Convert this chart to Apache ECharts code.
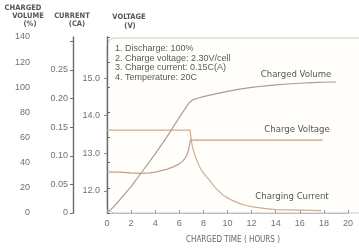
<!DOCTYPE html>
<html><head><meta charset="utf-8">
<script src="https://cdn.jsdelivr.net/npm/echarts@6/dist/echarts.min.js"></script>
<style>html,body{margin:0;padding:0;background:#fff}#c{width:359px;height:251px}</style>
</head><body><div id="c"></div>
<script>
// ---- data ----
const xTickValues = [0, 2, 4, 6, 8, 10, 12, 14, 16, 18, 20];
const volumeTicks = [0, 20, 40, 60, 80, 100, 120, 140];
const currentTicks = [0, 0.05, 0.10, 0.15, 0.20, 0.25];
const voltageTicks = [12.0, 13.0, 14.0, 15.0];

const volumeHours  = [0, 0.3, 0.7, 1.2, 2, 3, 4, 5, 6, 6.8, 7.1, 7.5, 8, 9, 10, 11, 12, 13, 14, 15, 16, 17, 18, 19];
const volumeValues = [0, 2.5, 6.5, 12, 21, 34, 47, 61, 76, 87.5, 90, 91.3, 92.6, 94.8, 96.8, 98.5, 99.9, 101, 101.9, 102.6, 103.2, 103.7, 104, 104.2];

const voltageHours  = [0, 1, 2, 2.8, 3.5, 4, 4.5, 5, 5.5, 6, 6.3, 6.5, 6.65, 6.75, 6.85, 6.92, 8, 10, 12, 14, 16, 17.9];
const voltageValues = [12.51, 12.5, 12.48, 12.47, 12.48, 12.5, 12.54, 12.58, 12.64, 12.72, 12.8, 12.88, 12.97, 13.08, 13.22, 13.35, 13.35, 13.35, 13.35, 13.35, 13.35, 13.35];

const currentHours  = [0, 6.9, 6.95, 7.05, 7.2, 7.4, 7.6, 7.8, 8.1, 8.4, 8.7, 9, 9.35, 9.7, 10.05, 10.4, 10.75, 11.1, 11.5, 12, 13, 14, 16, 17.8];
const currentValues = [0.145, 0.145, 0.135, 0.12, 0.107, 0.095, 0.085, 0.076, 0.067, 0.060, 0.052, 0.044, 0.037, 0.030, 0.026, 0.022, 0.019, 0.016, 0.0135, 0.011, 0.008, 0.006, 0.005, 0.004];

const notes = ['1. Discharge: 100%', '2. Charge voltage: 2.30V/cell', '3. Charge current: 0.15C(A)', '4. Temperature: 20C'];
const seriesNames = ['Charged Volume', 'Charge Voltage', 'Charging Current'];

// ---- chart ----
const zip = (a, b) => a.map((v, i) => [v, b[i]]);
const FONT = "'Liberation Sans', Arial, sans-serif";
const NARROW = "'Liberation Sans Narrow', 'DejaVu Sans Condensed', 'Liberation Sans', sans-serif";
const labelCol = '#707070';

const chart = echarts.init(document.getElementById('c'), null, {renderer: 'canvas'});
const GL = 107, GT = 37, GB = 38, GR = 11;

chart.setOption({
  animation: false,
  backgroundColor: '#ffffff',
  grid: {left: GL, top: GT, right: GR, bottom: GB, containLabel: false},
  xAxis: {
    type: 'value', min: 0, max: 20, interval: 2,
    axisLine: {show: true, lineStyle: {color: '#bdbdbd', width: 1}},
    axisTick: {show: true, inside: true, length: 3, lineStyle: {color: '#999'}},
    axisLabel: {color: labelCol, fontSize: 9, fontFamily: FONT, margin: 6,
      formatter: v => xTickValues.includes(v) ? String(v) : ''},
    splitLine: {show: false}
  },
  yAxis: [
    { // charged volume
      type: 'value', position: 'left', offset: 67, min: 0, max: 140, interval: 20,
      axisLine: {show: true, lineStyle: {color: '#6a6a6a', width: 1.4}},
      axisTick: {show: true, inside: true, length: 3, lineStyle: {color: '#6a6a6a'}},
      axisLabel: {color: labelCol, fontSize: 9, fontFamily: FONT, margin: 10,
        formatter: v => volumeTicks.includes(v) ? String(v) : ''},
      splitLine: {show: false}
    },
    { // current
      type: 'value', position: 'left', offset: 34, min: 0, max: 0.3077, interval: 0.05,
      axisLine: {show: true, lineStyle: {color: '#6a6a6a', width: 1.4}},
      axisTick: {show: true, inside: false, length: 3, lineStyle: {color: '#6a6a6a'}},
      axisLabel: {color: labelCol, fontSize: 9, fontFamily: FONT, margin: 5, showMaxLabel: false,
        formatter: v => {
          const t = currentTicks.find(c => Math.abs(c - v) < 1e-6);
          if (t === undefined) return '';
          return t === 0 ? '0' : t.toFixed(2);
        }},
      splitLine: {show: false}
    },
    { // voltage
      type: 'value', position: 'left', offset: 0, min: 11.416, max: 16.09,
      axisLine: {show: false},
      axisTick: {show: true, inside: false, length: 3, customValues: voltageTicks, lineStyle: {color: '#8a8a8a'}},
      axisLabel: {color: labelCol, fontSize: 9, fontFamily: FONT, margin: 7, customValues: voltageTicks,
        formatter: v => v.toFixed(1)},
      splitLine: {show: false}
    }
  ],
  series: [
    {name: seriesNames[0], type: 'line', yAxisIndex: 0, data: zip(volumeHours, volumeValues),
     showSymbol: false, smooth: false, lineStyle: {color: '#a99e8e', width: 1.2}, z: 5},
    {name: seriesNames[1], type: 'line', yAxisIndex: 2, data: zip(voltageHours, voltageValues),
     showSymbol: false, smooth: false, lineStyle: {color: '#c59c8c', width: 1.2}, z: 4},
    {name: seriesNames[2], type: 'line', yAxisIndex: 1, data: zip(currentHours, currentValues),
     showSymbol: false, smooth: false, lineStyle: {color: '#cfae94', width: 1.2}, z: 3}
  ]
});

// frame + texts
const txt = (text, x, y, opt = {}) => ({
  type: 'text', x, y, silent: true, z: 10,
  style: Object.assign({text, fill: '#5a5a5a', font: '9px ' + FONT, align: 'left', verticalAlign: 'middle'}, opt)
});
const title = (text, x, y) => txt(text, x, y, {font: 'bold 7.5px ' + NARROW, fill: '#555', align: 'center'});

const gx0 = chart.convertToPixel({xAxisIndex: 0}, 0);
const gyB = chart.convertToPixel({yAxisIndex: 0}, 0);
const gyT = chart.convertToPixel({yAxisIndex: 0}, 140);

chart.setOption({
  graphic: [
    {type: 'rect', silent: true, z: -1,
     shape: {x: gx0, y: gyT + 1, width: 400, height: gyB - gyT - 1, r: 8},
     style: {fill: '#fffefb', stroke: '#c9c9c9', lineWidth: 1}},
    title('CHARGED', 23, 8), title('VOLUME', 28, 16), title('(%)', 30, 24),
    title('CURRENT', 72, 16), title('(CA)', 77, 24),
    title('VOLTAGE', 129, 17), title('(V)', 130, 26),
    txt(notes[0], 115, 49), txt(notes[1], 115, 58.5), txt(notes[2], 115, 68), txt(notes[3], 115, 77.5),
    txt(seriesNames[0], 296, 75, {align: 'center', fill: '#555', font: '9.5px ' + NARROW}),
    txt(seriesNames[1], 297, 130, {align: 'center', fill: '#555', font: '9.5px ' + NARROW}),
    txt(seriesNames[2], 292, 197, {align: 'center', fill: '#555', font: '9.5px ' + NARROW}),
    txt('CHARGED TIME ( HOURS )', 233, 240, {align: 'center', fill: '#666', font: '8px ' + NARROW})
  ]
});
</script>
</body></html>
